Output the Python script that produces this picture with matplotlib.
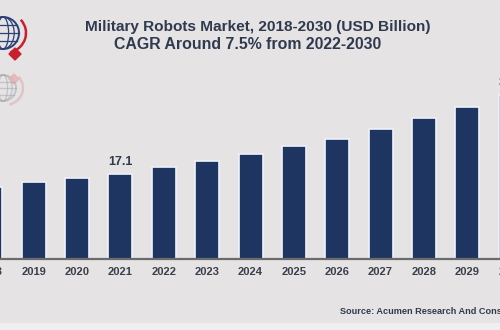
import matplotlib
matplotlib.use("Agg")
import matplotlib.pyplot as plt
from matplotlib.patches import Circle, Arc, Polygon, Ellipse, Rectangle

years = ["2018", "2019", "2020", "2021", "2022", "2023", "2024",
         "2025", "2026", "2027", "2028", "2029", "2030"]
market = [14.5, 15.4, 16.2, 17.1, 18.4, 19.7, 21.2, 22.7, 24.2, 26.2, 28.4, 30.5, 33.1]
labelled = {"2021": "17.1", "2030": "33.1"}

title = "Military Robots Market, 2018-2030 (USD Billion)"
subtitle = "CAGR Around 7.5% from 2022-2030"
source = "Source: Acumen Research And Consulting"

bg = "#e5e3e3"
navy = "#1f3561"
ink = "#2f3a4f"

plt.rcParams["font.family"] = ["Liberation Sans", "DejaVu Sans"]

W, H = 500, 330
fig = plt.figure(figsize=(W / 100, H / 100), dpi=100)
fig.patch.set_facecolor(bg)

base = 258.5  # px from top
ax = fig.add_axes([0, (H - base) / H, 1, base / H])
ax.patch.set_alpha(0)

x = list(range(len(years)))
ax.bar(x, market, width=0.554, color=navy, edgecolor="#eef2fa", linewidth=1.2, zorder=3)
ax.axhline(0, color="#6b6b6b", lw=1.6, clip_on=False, zorder=4)
ax.set_xlim(0.2215, 11.755)
ax.set_ylim(0, 52.2)

for i, y in enumerate(years):
    # year under each bar, drawn as text so the ones at the edges still show
    ax.text(i, -2.67, y, ha="center", va="center", fontsize=8,
            fontweight="bold", color="#3a3f4a", clip_on=False)
    if y in labelled:
        ax.text(i, market[i] + 1.68, labelled[y], ha="center", va="baseline",
                fontsize=9, fontweight="bold", color=ink, clip_on=False)

ax.set_xticks([])
ax.set_yticks([])
for s in ax.spines.values():
    s.set_visible(False)

fig.text(257.5 / W, 1 - 26.7 / H, title, ha="center", va="center",
         fontsize=11.1, fontweight="bold", color=ink)
fig.text(248 / W, 1 - 44.5 / H, subtitle, ha="center", va="center",
         fontsize=11.4, fontweight="bold", color=ink)
fig.text(340 / W, 1 - 311.5 / H, source, ha="left", va="center",
         fontsize=6.6, fontweight="bold", color=ink)

# logo in the top-left corner and the pale strip at the bottom, in pixel coordinates
lg = fig.add_axes([0, 0, 1, 1], zorder=5)
lg.set_xlim(0, W)
lg.set_ylim(H, 0)
lg.axis("off")
lg.add_patch(Rectangle((0, 323), W, 7, color="#f0efef", lw=0))


def globe(cx, cy, r, col, red, alpha):
    lg.add_patch(Circle((cx, cy), r, fill=False, ec=col, lw=1.4, alpha=alpha))
    for w in (0.35, 0.7):
        lg.add_patch(Ellipse((cx, cy), 2 * r * w, 2 * r, fill=False, ec=col, lw=0.9, alpha=alpha))
    for dy in (-0.5, 0, 0.5):
        hw = r * (1 - dy ** 2) ** 0.5
        lg.plot([cx - hw, cx + hw], [cy + dy * r, cy + dy * r], color=col, lw=0.9, alpha=alpha)
    lg.add_patch(Arc((cx + 2, cy), 2 * r + 10, 2 * r + 8, theta1=-40, theta2=75,
                     ec=red, lw=1.8, alpha=alpha))


globe(3, 33, 16, "#2b3f78", "#c8202e", 1.0)
lg.add_patch(Polygon([(15, 48), (21, 54), (15, 60), (9, 54)], color="#c8202e"))
globe(3, 88, 13, "#9a9ea8", "#d9a0a4", 0.45)
lg.add_patch(Polygon([(14, 74), (19, 79), (14, 84), (9, 79)], color="#e2b4b4", alpha=0.8))

fig.savefig("out.png", dpi=100, facecolor=bg)
